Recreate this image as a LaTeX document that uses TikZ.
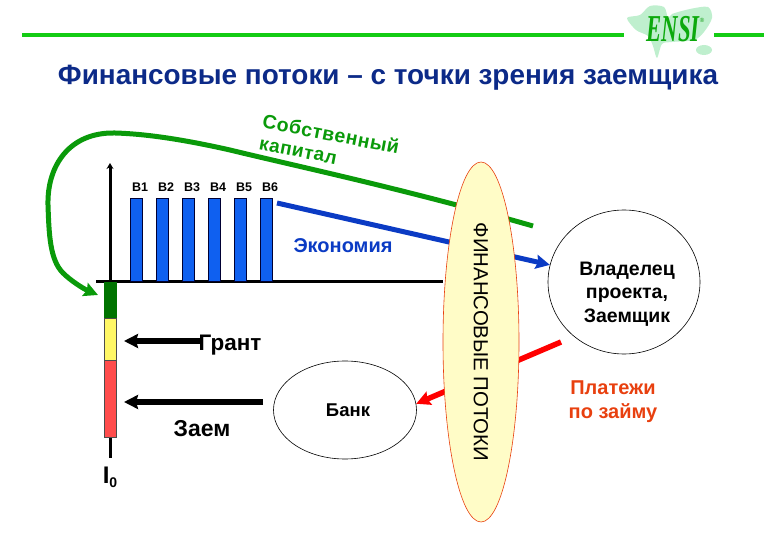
\documentclass[tikz,border=0pt]{standalone}
\usepackage{fontspec}
\setmainfont{Liberation Sans}
\newfontfamily\logofont{Liberation Serif}
\newfontfamily\widefont[LetterSpace=3]{Liberation Sans}
\usetikzlibrary{arrows.meta,backgrounds,shapes.geometric}

\definecolor{titleblue}{HTML}{0C2A88}
\definecolor{rulegreen}{HTML}{14CC14}
\definecolor{mapgreen}{HTML}{BFEFCE}
\definecolor{capgreen}{HTML}{0A9A0A}
\definecolor{savblue}{HTML}{0B3BC4}
\definecolor{barblue}{HTML}{0F60F0}
\definecolor{payred}{HTML}{E8400F}

\begin{document}
\begin{tikzpicture}[
  x=1pt, y=-1pt,
  font=\bfseries,
  bar/.style={draw=black!80!blue, line width=0.7pt, fill=barblue, minimum width=12pt,
              minimum height=83.5pt, inner sep=0pt, anchor=south},
  seg/.style={draw=black!70, line width=0.5pt, minimum width=12pt, inner sep=0pt, anchor=north},
  lbl/.style={font=\fontsize{12.5}{14}\selectfont\bfseries},
  party/.style={ellipse, draw=black, line width=0.6pt, align=center, inner sep=0pt},
  rulel/.style={draw=rulegreen, line width=3.5pt},
  flow/.style={-{Stealth[length=14pt,width=14pt,inset=2pt]}, line width=5pt},
  push/.style={flow, draw=black, line width=6pt},
]
\useasboundingbox (0,0) rectangle (780,540);

% Top rule and logo
\coordinate (ruleA) at (22,35);
\coordinate (ruleB) at (624,35);
\coordinate (ruleC) at (714,35);
\coordinate (ruleD) at (764,35);
\draw[rulel] (ruleA) -- (ruleB);
\draw[rulel] (ruleC) -- (ruleD);
\fill[mapgreen] plot[smooth cycle, tension=0.5] coordinates
  {(627,18) (640,15) (650,6) (664,7) (668,18) (672,14) (690,9) (708,7) (712,18) (704,32) (694,40) (672,42) (662,44) (657,58) (653,46) (648,36) (636,30)};
\fill[mapgreen] (704,50) ellipse (8pt and 5pt);
\node[font=\logofont\fontsize{38}{38}\selectfont\bfseries\itshape, text=capgreen!70!rulegreen, xscale=0.6, inner sep=0pt]
  (ensi) at (673,29) {ENSI};
\node[font=\fontsize{6}{6}\selectfont, text=capgreen, inner sep=0pt] (regmark) at (702,20) {®};

% Title
\node[font=\fontsize{27.9}{32}\selectfont\bfseries, text=titleblue, inner sep=0pt] (title) at (388,78)
  {Финансовые потоки – с точки зрения заемщика};

% Axes
\coordinate (axisL) at (96,282);
\coordinate (axisO) at (110,282);
\coordinate (axisT) at (110,163);

% Payback bars
\foreach \i in {1,...,6}{
  \node[bar] (b\i) at (110+26*\i,282) {};
  \node[lbl] (t\i) at (114+26*\i,187) {В\i};
}

% Investment column
\node[seg, fill=green!45!black, draw=green!45!black, minimum height=36pt] (own) at (110,282) {};
\node[seg, fill=yellow!60!white, minimum height=42pt] (grant) at (110,318) {};
\node[seg, fill=red!70!white, minimum height=77pt] (loan) at (110,360) {};
\coordinate (stem) at (110,458);
\node[font=\fontsize{24}{26}\selectfont\bfseries, inner sep=0pt] (io) at (110,477)
  {I\raisebox{-4pt}{\fontsize{14}{14}\selectfont 0}};

% Parties
\node[ellipse, draw=payred, line width=0.6pt, fill=yellow!22!white, minimum width=76pt,
      minimum height=360pt, inner sep=0pt] (fin) at (481,342)
  {\raisebox{2pt}{\rotatebox{-90}{\fontsize{20.4}{22}\selectfont\mdseries ФИНАНСОВЫЕ ПОТОКИ}}};
\node[party, fill=white, minimum width=152pt, minimum height=144pt] (owner) at (624,282) {};
\node[font=\fontsize{19.5}{23.5}\selectfont\bfseries, align=center, inner sep=0pt] (ownertxt) at (627,294)
  {Владелец\\проекта,\\Заемщик};
\node[party, minimum width=143pt, minimum height=98pt, font=\fontsize{18.5}{20}\selectfont\bfseries] (bank) at (345,410) {\raisebox{-1pt}{\hspace{6pt}Банк}};

% Labels
\node[font=\widefont\fontsize{19.5}{21}\selectfont\bfseries, text=capgreen, rotate=-11, inner sep=0pt] (eq1) at (331,134) {Собственный};
\node[font=\widefont\fontsize{19}{21}\selectfont\bfseries, text=capgreen, rotate=-11, inner sep=0pt] (eq2) at (298,152) {капитал};
\node[font=\fontsize{20}{23}\selectfont\bfseries, text=savblue, inner sep=0pt] (eco) at (343,246) {Экономия};
\node[font=\fontsize{22.5}{26}\selectfont\bfseries, inner sep=0pt] (grantlbl) at (230,345) {Грант};
\node[font=\fontsize{23}{26}\selectfont\bfseries, inner sep=0pt] (loanlbl) at (202,429) {Заем};
\node[font=\fontsize{20}{24}\selectfont\bfseries, text=payred, align=center, inner sep=0pt] (paylbl) at (613,402)
  {Платежи\\по займу};

% Arrows
\coordinate (eqStart) at (533,226);
\coordinate (ecoStart) at (277,203);
\coordinate (payStart) at (561,342);
\coordinate (grantStart) at (200,341);
\coordinate (grantTip) at (124,341);
\coordinate (loanStart) at (263,402);
\coordinate (loanTip) at (124,402);
\coordinate (ownTip) at (98,295);

\begin{scope}[on background layer]
  \draw[-{Stealth[length=6pt,width=7pt]}, line width=3pt] (axisO) -- (axisT);
  \draw[line width=3pt] (axisL) -- (fin.west |- axisL);
  \draw[line width=3pt] (loan.south) -- (stem);
  \draw[flow, draw=capgreen] (eqStart) .. controls (400,188) and (300,167) .. (230,150)
     .. controls (190,141) and (150,134) .. (115,133)
     .. controls (70,132) and (47,165) .. (48,205)
     .. controls (49,235) and (50,260) .. (63,273)
     .. controls (71,281) and (84,289) .. (ownTip);
  \draw[flow, draw=savblue] (ecoStart) -- (owner.167);
  \draw[flow, draw=red, line width=5.5pt] (payStart) -- (bank.5);
\end{scope}
\draw[push] (grantStart) -- (grantTip);
\draw[push] (loanStart) -- (loanTip);

\end{tikzpicture}
\end{document}
